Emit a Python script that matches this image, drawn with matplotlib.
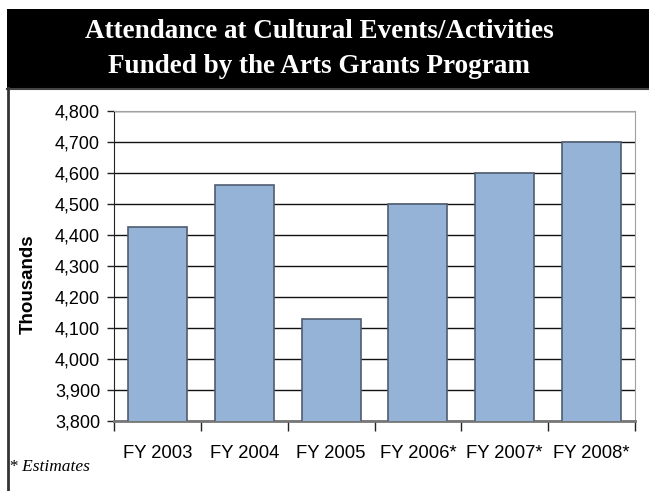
import matplotlib

matplotlib.use("Agg")
import matplotlib.pyplot as plt
from matplotlib.patches import Rectangle
from matplotlib.lines import Line2D
from matplotlib.ticker import FuncFormatter

years = ["FY 2003", "FY 2004", "FY 2005", "FY 2006*", "FY 2007*", "FY 2008*"]
attendance = [4425, 4560, 4130, 4500, 4600, 4700]
y_ticks = list(range(3800, 4801, 100))

SANS = "Liberation Sans"
SERIF = "Liberation Serif"

W, H = 649, 491
fig = plt.figure(figsize=(W / 100, H / 100), dpi=100)

# title band and page border
fig.patches.append(Rectangle((7 / W, 1 - 88 / H), 1 - 7 / W, 79 / H,
                             transform=fig.transFigure, facecolor="black",
                             edgecolor="none", zorder=0))
fig.lines.append(Line2D([7 / W, 1], [1 - 89 / H, 1 - 89 / H],
                        transform=fig.transFigure, color="#444444", lw=1.5))
fig.lines.append(Line2D([8 / W, 8 / W], [0, 1 - 88 / H],
                        transform=fig.transFigure, color="#333333", lw=2.0))
fig.text(0.5 - 5 / W, 1 - 49 / H,
         "Attendance at Cultural Events/Activities\nFunded by the Arts Grants Program",
         ha="center", va="center", color="white", fontsize=19.5,
         fontweight="bold", family=SERIF, linespacing=1.5)

ax = fig.add_axes([114 / W, 1 - 421 / H, (635 - 114) / W, (421 - 111) / H])
x = list(range(len(years)))
ax.bar(x, attendance, width=0.68, color="#95b3d7", edgecolor="#4f5d70",
       linewidth=1.2, zorder=3)

ax.set_xlim(-0.5, len(years) - 0.5)
ax.set_ylim(3800, 4800)
ax.set_yticks(y_ticks)
ax.yaxis.set_major_formatter(FuncFormatter(lambda v, _: f"{int(v):,}"))
ax.grid(axis="y", color="#111111", lw=1.0, zorder=1)

# category labels centred, ticks on category boundaries
ax.set_xticks(x)
ax.set_xticklabels(years, family=SANS, fontsize=13.3)
ax.set_xticks([i - 0.5 for i in range(len(years) + 1)], minor=True)
ax.tick_params(axis="x", which="major", length=0, pad=17)
ax.tick_params(axis="x", which="minor", length=7, width=1.0, color="#222222",
               direction="out")
ax.tick_params(axis="y", length=5, width=1.0, color="#222222", pad=5)
for lab in ax.get_yticklabels():
    lab.set_family(SANS)
    lab.set_fontsize(13)

ax.spines["left"].set_color("#222222")
ax.spines["bottom"].set_color("#777777")
ax.spines["bottom"].set_linewidth(2.0)
ax.spines["top"].set_color("#a0a0a0")
ax.spines["right"].set_color("#a0a0a0")

fig.text(28 / W, 1 - 284 / H, "Thousands", rotation=90, ha="center",
         va="center", fontsize=13.5, fontweight="bold", family=SANS)
fig.text(9 / W, 1 - 467 / H, "* Estimates", ha="left", va="center",
         fontsize=12.5, style="italic", family=SERIF)

fig.savefig("out.png", dpi=100)
